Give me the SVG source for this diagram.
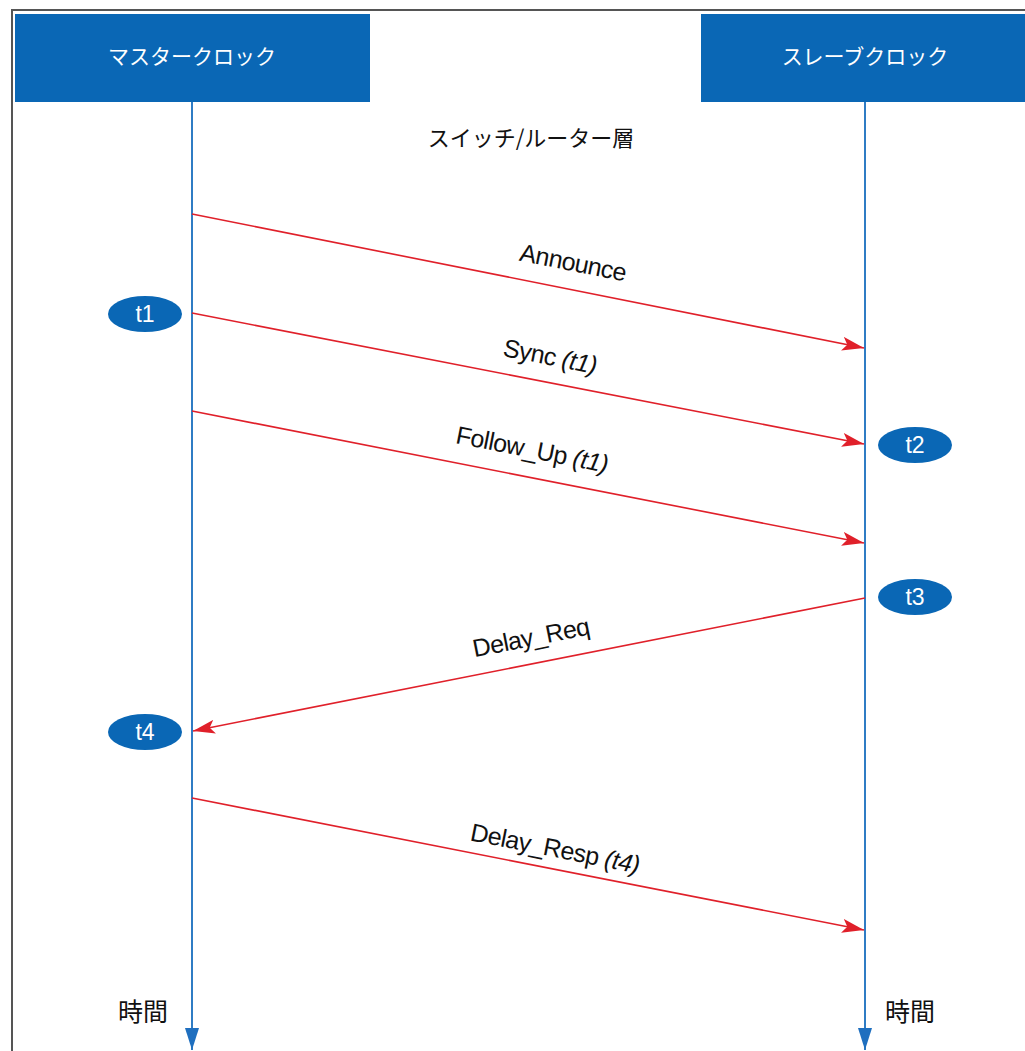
<svg xmlns="http://www.w3.org/2000/svg" width="1025" height="1051" viewBox="0 0 1025 1051">
<defs>
<style>
.box{fill:#0a67b5}
.boxt{fill:#fff;font-family:"Noto Sans CJK JP","Liberation Sans",sans-serif;font-size:21px;text-anchor:middle}
.life{stroke:#2f7cc4;stroke-width:2;fill:none}
.msg{stroke:#e0202a;stroke-width:1.6;fill:none;marker-end:url(#ra)}
.lbl{font-family:"Liberation Sans","Noto Sans",sans-serif;font-size:25px;fill:#111;text-anchor:middle;letter-spacing:-0.6px}
.it{font-style:italic}
.ts{fill:#0a67b5}
.tst{fill:#fff;font-family:"Liberation Sans",sans-serif;font-size:23px;text-anchor:middle}
.jp{font-family:"Noto Sans CJK JP",sans-serif;font-size:25px;fill:#111;text-anchor:middle}
.layer{font-size:22px}
</style>
<marker id="ra" viewBox="0 0 22 14" refX="22" refY="7" markerWidth="22" markerHeight="14" markerUnits="userSpaceOnUse" orient="auto">
<path d="M0,0 L22,7 L0,14 L5,7 Z" fill="#e0202a"/>
</marker>
<marker id="ba" viewBox="0 0 14 22" refX="7" refY="22" markerWidth="14" markerHeight="22" markerUnits="userSpaceOnUse" orient="0">
<path d="M0,0 L14,0 L7,22 Z" fill="#1f6fbf"/>
</marker>
</defs>
<rect width="1025" height="1051" fill="#fff"/>
<path d="M12,1051 V10 H1025" stroke="#555" stroke-width="2" fill="none"/>
<g id="master">
<rect class="box" x="15" y="14" width="355" height="88"/>
<text class="boxt" x="192" y="64">マスタークロック</text>
</g>
<g id="slave">
<rect class="box" x="701" y="14" width="324" height="88"/>
<text class="boxt" x="865" y="64">スレーブクロック</text>
</g>
<g id="layer-label">
<text class="jp layer" x="531" y="146">スイッチ/ルーター層</text>
</g>
<g id="time-labels">
<text class="jp" x="143" y="1021">時間</text>
<text class="jp" x="910" y="1021">時間</text>
</g>
<g id="connectors">
<line class="life" x1="192" y1="102" x2="192" y2="1050" marker-end="url(#ba)"/>
<line class="life" x1="865" y1="102" x2="865" y2="1050" marker-end="url(#ba)"/>
<line class="msg" x1="192" y1="214" x2="864" y2="348"/>
<line class="msg" x1="192" y1="313" x2="864" y2="444"/>
<line class="msg" x1="192" y1="411" x2="864" y2="543"/>
<line class="msg" x1="865" y1="598" x2="193" y2="731"/>
<line class="msg" x1="192" y1="798" x2="864" y2="930"/>
<text class="lbl" transform="translate(573,263) rotate(11.2)" dy="8">Announce</text>
<text class="lbl" transform="translate(550,357) rotate(11.2)" dy="8">Sync <tspan class="it">(t1)</tspan></text>
<text class="lbl" transform="translate(532,450) rotate(11.2)" dy="8">Follow_Up <tspan class="it">(t1)</tspan></text>
<text class="lbl" transform="translate(531,638) rotate(-11.2)" dy="8">Delay_Req</text>
<text class="lbl" transform="translate(555,849) rotate(11.2)" dy="8">Delay_Resp <tspan class="it">(t4)</tspan></text>
</g>
<g id="t1"><ellipse class="ts" cx="145" cy="314" rx="37" ry="18"/><text class="tst" x="145" y="322">t1</text></g>
<g id="t2"><ellipse class="ts" cx="915" cy="445" rx="37" ry="18"/><text class="tst" x="915" y="453">t2</text></g>
<g id="t3"><ellipse class="ts" cx="915" cy="597" rx="37" ry="18"/><text class="tst" x="915" y="605">t3</text></g>
<g id="t4"><ellipse class="ts" cx="145" cy="732" rx="37" ry="18"/><text class="tst" x="145" y="740">t4</text></g>
</svg>
